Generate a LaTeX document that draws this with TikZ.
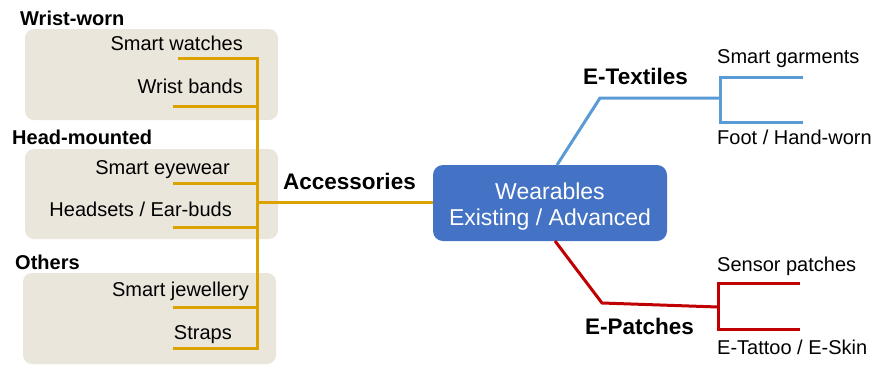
\documentclass[tikz,border=0pt]{standalone}
\usepackage{fontspec}
\setmainfont{Liberation Sans}
\definecolor{groupbg}{RGB}{235,230,219}
\definecolor{goldline}{RGB}{220,163,0}
\definecolor{coreblue}{RGB}{68,114,196}
\definecolor{textileblue}{RGB}{91,155,213}
\definecolor{patchred}{RGB}{192,0,0}
\begin{document}
\begin{tikzpicture}[x=1pt,y=-1pt,
  lbl/.style={font=\fontsize{20}{24}\selectfont, inner sep=0pt, text height=1.5ex, text depth=.25ex, yshift=-3pt},
  hdr/.style={font=\fontsize{20}{24}\selectfont\bfseries, inner sep=0pt, text height=1.5ex, text depth=.25ex, anchor=west, yshift=-3pt},
  branch/.style={font=\fontsize{22.5}{27}\selectfont\bfseries, inner sep=0pt, text height=1.5ex, text depth=.25ex, anchor=west, yshift=-3pt},
  group/.style={fill=groupbg, rounded corners=9pt, inner sep=0pt, minimum width=253pt},
  core/.style={fill=coreblue, rounded corners=10pt, text=white, align=center,
    font=\fontsize{23}{26}\selectfont, minimum width=234pt, minimum height=76pt, inner sep=0pt},
  gold/.style={draw=goldline, line width=3pt},
  tex/.style={draw=textileblue, line width=3pt},
  pat/.style={draw=patchred, line width=3pt}
]
\useasboundingbox (0,0) rectangle (876,365);

% group panels
\node[group, minimum height=91pt] (wristbox) at (151.5,74.5) {};
\node[group, minimum height=90pt] (headbox) at (151.5,194) {};
\node[group, minimum height=91pt] (otherbox) at (149.5,318.5) {};

% group headings
\node[hdr] (wrist) at (20,19) {Wrist-worn};
\node[hdr] (head) at (12,138) {Head-mounted};
\node[hdr] (others) at (15,263) {Others};

% accessory items
\node[lbl, anchor=east] (watch) at (243,44) {Smart watches};
\node[lbl, anchor=east] (band) at (243,87) {Wrist bands};
\node[lbl, anchor=east] (eyewear) at (230,168) {Smart eyewear};
\node[lbl, anchor=east] (headset) at (232,210) {Headsets / Ear-buds};
\node[lbl, anchor=east] (jewel) at (249,290) {Smart jewellery};
\node[lbl, anchor=east] (strap) at (232,333) {Straps};

% central node
\node[core] (core) at (550,203) {};
\node[text=white, align=center, font=\fontsize{23}{26}\selectfont, inner sep=0pt] (coretext)
  at ([yshift=-4pt]core.center) {Wearables\\Existing / Advanced};

% accessories tree
\node[branch] (acc) at (283,183) {Accessories};
\coordinate (l1) at (178,58);  \coordinate (s1) at (257,58);
\coordinate (l2) at (173,106); \coordinate (s2) at (257,106);
\coordinate (l3) at (173,183); \coordinate (s3) at (257,183);
\coordinate (l4) at (173,227); \coordinate (s4) at (257,227);
\coordinate (l5) at (173,307); \coordinate (s5) at (257,307);
\coordinate (l6) at (173,348); \coordinate (s6) at (257,348);
\coordinate (sa) at (257,202);
\draw[gold] (l1) -- (s1) -- (s6) -- (l6);
\draw[gold] (l2) -- (s2);
\draw[gold] (l3) -- (s3);
\draw[gold] (l4) -- (s4);
\draw[gold] (l5) -- (s5);
\draw[gold] (sa) -- (sa -| core.west);

% e-textiles tree
\node[branch] (etex) at (583,78) {E-Textiles};
\node[lbl, anchor=west] (garment) at (717,57) {Smart garments};
\node[lbl, anchor=west] (foot) at (717,138) {Foot / Hand-worn};
\coordinate (t0) at (557,165);
\coordinate (t1) at (600,98);
\coordinate (t2) at (720,98);
\coordinate (tu) at (720,77);  \coordinate (tue) at (803,77);
\coordinate (td) at (720,122); \coordinate (tde) at (803,122);
\draw[tex] (t0) -- (t1) -- (t2);
\draw[tex] (tue) -- (tu) -- (td) -- (tde);

% e-patches tree
\node[branch] (epat) at (585,328) {E-Patches};
\node[lbl, anchor=west] (sensor) at (717,265) {Sensor patches};
\node[lbl, anchor=west] (tattoo) at (717,348) {E-Tattoo / E-Skin};
\coordinate (p0) at (555,241);
\coordinate (p1) at (602,303);
\coordinate (p2) at (718,307);
\coordinate (pu) at (718,283); \coordinate (pue) at (800,283);
\coordinate (pd) at (718,329); \coordinate (pde) at (800,329);
\draw[pat] (p0) -- (p1) -- (p2);
\draw[pat] (pue) -- (pu) -- (pd) -- (pde);
\end{tikzpicture}
\end{document}
